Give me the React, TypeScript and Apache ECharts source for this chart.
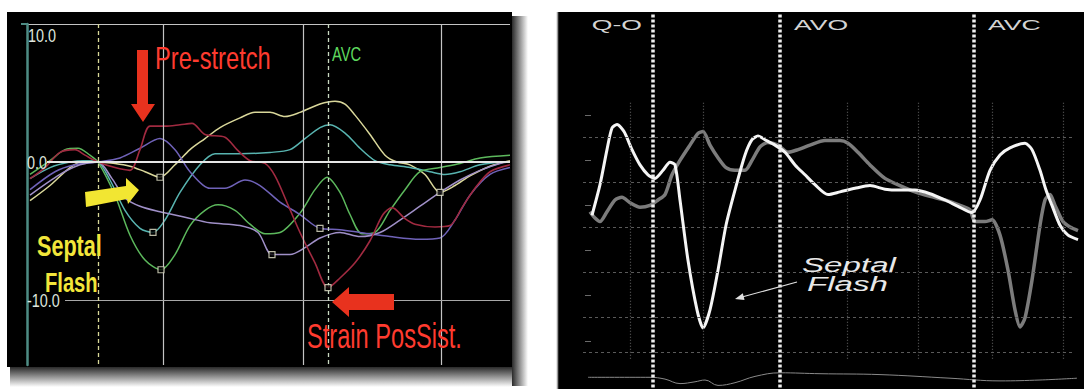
import React, { useEffect, useRef } from "react";
import * as echarts from "echarts";

// ---------- Left panel: segmental strain (%) vs time (ms) ----------
const khakiStrain = [[6,-2.8],[46,-1.7],[86,-0.4],[116,0.1],[142,0],[176,-0.1],[206,-0.3],[236,-0.7],[266,-1.1],[296,-0.2],[326,0.9],[356,1.7],[386,2.5],[426,3.2],[456,3.6],[486,3.6],[516,3.3],[546,3.6],[586,4.2],[616,4.4],[636,4.2],[656,3.4],[686,2.0],[716,0.5],[740,0],[766,-0.2],[796,-0.9],[826,-2.2],[856,-1.7],[886,-1.0],[926,-0.3],[966,0.1]];
const tealStrain = [[6,-1.2],[46,-0.4],[86,0],[116,0.1],[142,0],[166,-1.3],[196,-3.5],[226,-4.8],[252,-5.1],[276,-4.2],[306,-2.2],[346,-0.2],[376,0.6],[426,0.6],[486,0.7],[526,0.9],[556,1.7],[586,2.5],[606,2.7],[636,2.1],[666,1.0],[696,0.1],[726,-0.2],[766,-0.4],[806,-0.7],[836,-0.9],[866,-0.7],[906,-0.2],[956,0]];
const greenStrain = [[6,-0.9],[46,0.1],[76,0.9],[102,1.0],[126,0.5],[142,0],[176,-2.4],[206,-5.3],[236,-7.1],[268,-7.8],[296,-6.7],[326,-4.6],[356,-3.5],[382,-3.1],[416,-3.5],[446,-4.5],[476,-5.2],[506,-5.1],[546,-3.7],[576,-2.0],[600,-1.1],[626,-2.2],[646,-3.8],[670,-5.2],[696,-5.1],[726,-3.5],[756,-2.0],[786,-0.7],[826,-0.4],[866,-0.1],[906,0.3],[966,0.5]];
const purpleStrain = [[6,-2.0],[56,-0.7],[96,-0.2],[142,0],[186,0.3],[226,1.0],[266,1.7],[296,0.9],[326,-0.7],[366,-1.9],[396,-1.9],[436,-1.3],[466,-1.7],[506,-2.9],[546,-3.8],[586,-4.8],[626,-4.9],[666,-5.1],[726,-5.4],[786,-5.6],[826,-5.5],[856,-4.2],[886,-2.4],[926,-0.9],[966,-0.4]];
const lavenderStrain = [[6,-2.4],[66,-0.9],[106,-0.2],[142,0],[170,-1.2],[196,-2.6],[226,-3.2],[266,-3.6],[316,-4.0],[366,-4.4],[426,-4.6],[462,-5.1],[490,-6.7],[526,-6.7],[556,-6.2],[586,-5.5],[626,-5.1],[666,-5.4],[706,-5.1],[746,-4.2],[786,-3.2],[826,-2.2],[866,-1.3],[906,-0.6],[946,-0.1],[966,0]];
const maroonStrain = [[6,-1.2],[36,-0.4],[66,0.7],[96,0.9],[116,0.5],[142,0],[176,-0.4],[206,-0.6],[226,0.9],[246,2.6],[276,2.6],[306,2.7],[330,2.8],[356,2.0],[396,1.8],[420,0.9],[446,0.1],[476,-0.1],[496,-1.0],[522,-3.1],[546,-5.1],[576,-7.3],[602,-9.1],[626,-8.4],[656,-7.3],[686,-5.7],[712,-3.8],[730,-3.3],[756,-4.1],[776,-4.5],[816,-4.7],[846,-4.6],[870,-3.3],[896,-1.9],[926,-0.7],[966,-0.2]];
const peakMarkers = [[266,-1.1],[252,-5.1],[268,-7.8],[490,-6.7],[586,-4.8],[602,-9.1],[826,-2.2]];
const leftTickValues = [10, 0, -10];
const leftTickLabels = ["10.0", "0.0", "-10.0"];
const leftGridTimes = [272, 552, 828];
const onsetTime = 142;
const leftAvcTime = 602;

// ---------- Right panel: septal strain (%) vs time (ms) ----------
const whiteStrain = [[68,-8.7],[84,-5.3],[98,-1.4],[108,1.0],[118,1.4],[132,0.6],[148,-1.4],[164,-3.1],[180,-4.2],[194,-4.6],[210,-3.7],[224,-2.8],[234,-3.1],[244,-7.0],[260,-13.7],[278,-19.2],[290,-21.2],[304,-19.2],[320,-14.8],[336,-9.8],[354,-5.9],[374,-2.0],[388,-0.3],[400,0.1],[414,-0.3],[434,-0.9],[454,-1.7],[474,-3.1],[494,-4.2],[514,-5.3],[540,-6.4],[564,-6.1],[594,-5.7],[624,-5.4],[654,-5.8],[684,-5.9],[714,-5.9],[744,-6.3],[774,-7.0],[800,-7.7],[828,-8.4],[844,-7.0],[864,-3.7],[884,-2.0],[904,-1.2],[934,-0.7],[948,-1.4],[964,-3.7],[976,-5.9],[988,-7.6],[1004,-9.8],[1020,-10.9],[1040,-11.4]];
const grayStrain = [[64,-8.3],[74,-9.0],[84,-9.4],[98,-8.3],[114,-7.0],[128,-6.7],[144,-7.3],[164,-7.8],[184,-7.6],[200,-7.0],[214,-6.4],[228,-4.2],[244,-2.6],[264,-0.9],[280,0.4],[290,0.6],[304,-0.9],[320,-2.3],[336,-3.4],[354,-3.7],[374,-3.7],[388,-2.6],[404,-1.1],[420,-0.6],[440,-0.9],[460,-1.7],[480,-1.4],[504,-0.9],[534,-0.4],[564,-0.4],[580,-0.7],[600,-1.7],[624,-3.1],[654,-4.6],[684,-5.4],[714,-6.1],[744,-6.6],[774,-7.0],[804,-7.6],[824,-8.1],[834,-9.4],[854,-9.4],[868,-9.2],[884,-10.9],[900,-14.8],[914,-19.2],[924,-21.1],[934,-20.1],[948,-15.9],[964,-9.8],[974,-7.0],[984,-6.4],[994,-7.6],[1010,-9.4],[1024,-10.0],[1040,-10.4]];
const ecgTrace = [[60,-26.7],[184,-26.7],[214,-26.9],[244,-27.4],[274,-27.2],[294,-27.0],[320,-27.6],[354,-27.3],[394,-26.6],[444,-26.2],[524,-26.3],[644,-26.4],[784,-26.8],[884,-27.1],[964,-27.0],[1038,-26.8]];
const eventTimes = [190, 444, 832];
const eventLabels = ["Q-O", "AVO", "AVC"];
const rightGridTimes = [144, 290, 578, 720, 868, 1010];
const rightGridValues = [0, -5, -10, -15, -20, -23.9];
const rightTickValues = [2.4, -2.6, -7.6, -12.6, -17.6, -22.7];

const seg = (x1: number, y1: number, x2: number, y2: number) => [{ coord: [x1, y1] }, { coord: [x2, y2] }];

function helper(xi: number, lines: any[], lineStyle: any, z = 1) {
  return {
    type: "line", xAxisIndex: xi, yAxisIndex: xi, data: [], silent: true, z,
    markLine: { silent: true, symbol: ["none", "none"], label: { show: false }, lineStyle, data: lines, animation: false },
  };
}

function curve(xi: number, data: number[][], color: string, width: number, z = 3, smooth = 0.3) {
  return {
    type: "line", xAxisIndex: xi, yAxisIndex: xi, data, showSymbol: false, smooth, silent: true, z,
    lineStyle: { color, width }, itemStyle: { color },
  };
}

const sans = "'Liberation Sans', Arial, sans-serif";

function txt(text: string, x: number, y: number, size: number, color: string, scaleX: number, opts: any = {}) {
  return {
    type: "text", x, y, scaleX, z: 60, silent: true,
    style: {
      text, fill: color, fontSize: size, fontFamily: sans, fontWeight: opts.weight || "normal",
      fontStyle: opts.style || "normal", textAlign: opts.align || "left", textVerticalAlign: opts.valign || "middle",
    },
  };
}

export default function App() {
  const ref = useRef<HTMLDivElement>(null);
  useEffect(() => {
    const chart = echarts.init(ref.current!, null, { renderer: "svg" });
    const LMIN = -14.7, LMAX = 10, RMIN = -28, RMAX = 13.89;
    chart.setOption({
      animation: false,
      backgroundColor: "#ffffff",
      grid: [
        { left: 27, top: 24, width: 483, height: 341, show: false },
        { left: 558, top: 12, width: 526, height: 377, show: false },
      ],
      xAxis: [
        { gridIndex: 0, type: "value", min: 0, max: 966, show: false },
        { gridIndex: 1, type: "value", min: 0, max: 1052, show: false },
      ],
      yAxis: [
        {
          gridIndex: 0, type: "value", min: LMIN, max: LMAX, z: 5,
          axisLine: { show: true, onZero: false, lineStyle: { color: "#4e8c84", width: 2.5 } },
          axisTick: { show: false }, axisLabel: { show: false }, splitLine: { show: false },
        },
        { gridIndex: 1, type: "value", min: RMIN, max: RMAX, show: false },
      ],
      series: [
        // left reference lines
        helper(0, [seg(0, LMAX, 966, LMAX), ...leftGridTimes.map((t) => seg(t, LMAX, t, LMIN))], { color: "#c4c4c4", width: 1.2, type: "solid" }),
        helper(0, [seg(40, 0, 966, 0)], { color: "#e6e6e6", width: 2.2, type: "solid" }),
        helper(0, [seg(76, -10, 966, -10)], { color: "#a8a8a8", width: 1, type: "solid" }),
        helper(0, [seg(onsetTime, LMAX, onsetTime, LMIN)], { color: "#d8d898", width: 1.3, type: [4, 3] }),
        helper(0, [seg(leftAvcTime, LMAX, leftAvcTime, LMIN)], { color: "#c8d8c0", width: 1.3, type: [4, 3] }),
        curve(0, khakiStrain, "#d9d79a", 1.5),
        curve(0, tealStrain, "#58b4b0", 1.5),
        curve(0, greenStrain, "#5cb85c", 1.5),
        curve(0, purpleStrain, "#6f62b8", 1.5),
        curve(0, lavenderStrain, "#a090c8", 1.5),
        curve(0, maroonStrain, "#a02a40", 1.6),
        {
          type: "scatter", xAxisIndex: 0, yAxisIndex: 0, data: peakMarkers, symbol: "rect", symbolSize: 6, z: 6, silent: true,
          itemStyle: { color: "#000000", borderColor: "#e6e6cc", borderWidth: 1.2 },
        },
        // right grid
        helper(1, rightGridValues.map((v) => seg(50, v, 1034, v)), { color: "#5a5a5a", width: 1, type: [3, 3] }),
        helper(1, rightTickValues.map((v) => seg(54, v, 66, v)), { color: "#6a6a6a", width: 1, type: "solid" }),
        helper(1, rightGridTimes.map((t) => seg(t, 3.8, t, -24.8)), { color: "#5e5e5e", width: 1.2, type: [1, 2] }),
        helper(1, eventTimes.map((t) => seg(t, 13.6, t, RMIN)), { color: "#eeeeee", width: 3.5, type: [3, 2] }, 2),
        curve(1, ecgTrace, "#8a8a8a", 1, 3, 0.4),
        curve(1, grayStrain, "#7c7c7c", 3.5, 3, 0.25),
        curve(1, whiteStrain, "#f5f5f5", 3, 4, 0.25),
      ],
    });

    const toPx = (xi: number, x: number, y: number) => chart.convertToPixel({ xAxisIndex: xi, yAxisIndex: xi } as any, [x, y]) as number[];

    const gfx: any[] = [
      // left panel background and shadow
      { type: "rect", z: -1, silent: true, shape: { x: 7, y: 12, width: 505, height: 355 }, style: { fill: "#000" } },
      {
        type: "rect", z: -1, silent: true, shape: { x: 512, y: 16, width: 16, height: 370 },
        style: { fill: new echarts.graphic.LinearGradient(0, 0, 1, 0, [{ offset: 0, color: "#2a2a2a" }, { offset: 1, color: "#ffffff" }]) },
      },
      {
        type: "rect", z: -1, silent: true, shape: { x: 10, y: 367, width: 502, height: 20 },
        style: { fill: new echarts.graphic.LinearGradient(0, 0, 0, 1, [{ offset: 0, color: "#2a2a2a" }, { offset: 1, color: "#ffffff" }]) },
      },
      { type: "line", z: 5, silent: true, shape: { x1: 21, y1: 24, x2: 28, y2: 24 }, style: { stroke: "#4e8c84", lineWidth: 2 } },
      // right panel background
      { type: "rect", z: -1, silent: true, shape: { x: 557, y: 12, width: 527, height: 377 }, style: { fill: "#000" } },
      { type: "line", z: -1, silent: true, shape: { x1: 557.5, y1: 12, x2: 557.5, y2: 389 }, style: { stroke: "#9a9a9a", lineWidth: 1.5 } },
      // left annotations
      { type: "polygon", z: 55, silent: true, shape: { points: [[137, 50], [148, 50], [148, 104], [155, 104], [143, 122], [131, 104], [137, 104]] }, style: { fill: "#e8321e" } },
      { type: "polygon", z: 55, silent: true, shape: { points: [[332, 302], [349, 287], [349, 294], [394, 294], [394, 310], [349, 310], [349, 317]] }, style: { fill: "#e8321e" } },
      { type: "polygon", z: 55, silent: true, shape: { points: [[85, 192], [126, 186], [126, 178], [139, 190], [128, 204], [127, 199], [86, 207]] }, style: { fill: "#f2e632" } },
      txt("Pre-stretch", 155, 58.5, 32, "#ff3b2f", 0.74),
      txt("Strain PosSist.", 307, 336, 35, "#ff3b2f", 0.675),
      txt("Septal", 37, 246, 30, "#f2e63a", 0.72, { weight: "bold" }),
      txt("Flash", 45, 282, 28, "#f2e63a", 0.72, { weight: "bold" }),
      // right annotations
      txt("Septal", 802, 265, 19.5, "#e8e8e8", 1.7, { style: "italic" }),
      txt("Flash", 807, 284, 19.5, "#e8e8e8", 1.7, { style: "italic" }),
      { type: "line", z: 55, silent: true, shape: { x1: 797, y1: 282, x2: 742, y2: 297 }, style: { stroke: "#e0e0e0", lineWidth: 1.2 } },
      { type: "polygon", z: 55, silent: true, shape: { points: [[735, 299], [744.6, 300], [742.8, 293.2]] }, style: { fill: "#e0e0e0" } },
    ];

    // left tick labels placed through the y scale
    leftTickValues.forEach((v, i) => {
      const p = toPx(0, 0, v);
      if (i === 0) gfx.push(txt(leftTickLabels[i], 28, p[1] + 11, 18, "#dfe6df", 0.8));
      else gfx.push(txt(leftTickLabels[i], 27, p[1], 18, "#dfe6df", 0.8));
    });
    // left AVC label
    const avc = toPx(0, leftAvcTime, 0);
    gfx.push(txt("AVC", avc[0] + 4, 54.5, 21, "#5ed85e", 0.7));
    // right event labels
    eventTimes.forEach((t, i) => {
      const p = toPx(1, t, 0);
      if (i === 0) gfx.push(txt(eventLabels[i], p[0] - 11, 25, 14, "#d4d4d4", 1.9, { align: "right" }));
      else gfx.push(txt(eventLabels[i], p[0] + 14, 25, 14, "#d4d4d4", 1.9));
    });

    chart.setOption({ graphic: { elements: gfx } });
    return () => chart.dispose();
  }, []);
  return <div ref={ref} style={{ position: "fixed", left: 0, top: 0, width: 1084, height: 389 }} />;
}
